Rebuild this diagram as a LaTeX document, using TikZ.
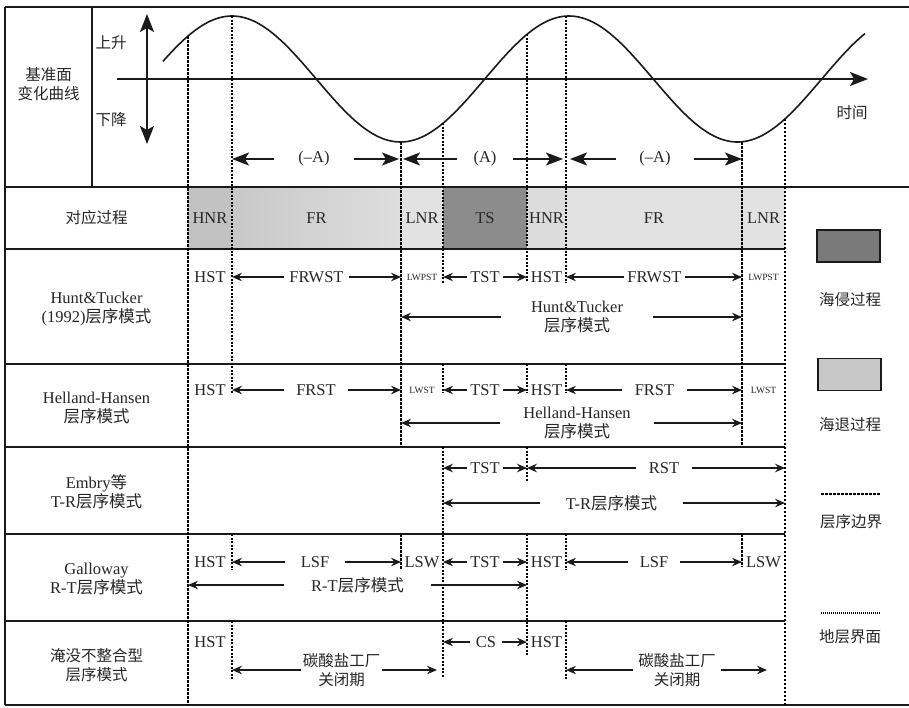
\documentclass[tikz,border=0pt]{standalone}
\usepackage{fontspec}
\setmainfont{Liberation Serif}
\newfontfamily\cjk{Noto Sans CJK SC}
\usetikzlibrary{arrows.meta}
\definecolor{ink}{HTML}{1A1A1A}
\definecolor{txtc}{HTML}{262626}
\definecolor{gHNRa}{HTML}{C2C2C2}
\definecolor{gFRaL}{HTML}{C8C8C8}
\definecolor{gFRaR}{HTML}{DEDEDE}
\definecolor{gLNR}{HTML}{E2E2E2}
\definecolor{gTS}{HTML}{8C8C8C}
\definecolor{gHNRb}{HTML}{DCDCDC}
\definecolor{gFRb}{HTML}{E1E1E1}
\definecolor{legdark}{HTML}{7A7A7A}
\definecolor{leglight}{HTML}{C8C8C8}
\begin{document}
\begin{tikzpicture}[x=1pt,y=-1pt,
  every node/.style={text=txtc},
  lbl/.style={font=\fontsize{16.5}{19}\selectfont, inner sep=0pt, align=center},
  zh/.style={lbl, font=\fontsize{15.5}{19}\selectfont\cjk},
  sml/.style={font=\fontsize{9.5}{11}\selectfont, inner sep=0pt},
  gp/.style={lbl, inner xsep=#1},
  arr/.style={draw=ink, line width=1.4pt, -{Stealth[length=10pt,width=8.5pt,inset=3.5pt]}},
  bigarr/.style={draw=ink, line width=1.6pt, -{Stealth[length=17pt,width=13pt,inset=4pt]}},
  frame/.style={draw=ink, line width=1.4pt},
  bnd/.style={draw=black, line width=2.3pt, dash pattern=on 2.5pt off 1.5pt},
  fine/.style={draw=black, line width=2pt, dash pattern=on 2pt off 1.5pt},
  legbox/.style={draw=ink, line width=1.4pt, minimum width=63pt, minimum height=32pt, inner sep=0pt},
]
\useasboundingbox (0,0) rectangle (909,707);
\fill[white] (0,0) rectangle (909,707);

% x positions of the boundaries
\coordinate (X1) at (188,0);
\coordinate (X2) at (232,0);
\coordinate (X3) at (401,0);
\coordinate (X4) at (443,0);
\coordinate (X5) at (527,0);
\coordinate (X6) at (566,0);
\coordinate (X7) at (742,0);
\coordinate (X8) at (785,0);
\coordinate (E1) at (437,0);
\coordinate (E2) at (767,0);
\coordinate (T2a) at (399,0);
\coordinate (T2b) at (403,0);
\coordinate (T3a) at (563,0);
\coordinate (T3b) at (570,0);

% process row fills
\fill[gHNRa] (188,187) rectangle (232,249);
\shade[left color=gFRaL, right color=gFRaR] (232,187) rectangle (401,249);
\fill[gLNR] (401,187) rectangle (443,249);
\fill[gTS] (443,187) rectangle (527,249);
\fill[gHNRb] (527,187) rectangle (566,249);
\fill[gFRb] (566,187) rectangle (742,249);
\fill[gLNR] (742,187) rectangle (785,249);

% frame
\draw[frame] (5,7) -- (909,7);
\draw[frame] (5,7) -- (5,705);
\draw[frame] (5,705) -- (909,705);
\draw[frame] (5,187) -- (909,187);
\draw[frame] (92,7) -- (92,187);
\foreach \yy in {249,364,447,534,621} \draw[frame] (5,\yy) -- (785,\yy);

% axes
\coordinate (VA1) at (147,14);
\coordinate (VA2) at (147,144);
\draw[draw=ink, line width=2pt, {Stealth[length=18pt,width=14pt,inset=4pt]}-{Stealth[length=18pt,width=14pt,inset=4pt]}] (VA1) -- (VA2);
\coordinate (HA1) at (117,79);
\coordinate (HA2) at (868,79);
\draw[draw=ink, line width=1.6pt, -{Stealth[length=18pt,width=14pt,inset=4pt]}] (HA1) -- (HA2);

% base-level curve
\draw[draw=ink, line width=1.6pt] plot[domain=163:865, samples=240, smooth] (\x,{79-63*cos(((\x-232)/337)*360)});

% vertical boundaries
\draw[bnd] (188,{79-63*cos(((188-232)/337)*360)}) -- (188,705);
\draw[fine] (232,16) -- (232,393);
\draw[fine] (232,534) -- (232,570);
\draw[fine] (232,621) -- (232,680);
\draw[bnd] (401,142) -- (401,447);
\draw[bnd] (401,534) -- (401,570);
\draw[fine] (443,{79-63*cos(((443-232)/337)*360)}) -- (443,283);
\draw[fine] (443,364) -- (443,393);
\draw[fine] (443,447) -- (443,678);
\draw[fine] (527,{79-63*cos(((527-232)/337)*360)}) -- (527,281);
\draw[fine] (527,364) -- (527,393);
\draw[fine] (527,447) -- (527,482);
\draw[fine] (527,534) -- (527,655);
\draw[fine] (566,16) -- (566,283);
\draw[fine] (566,364) -- (566,393);
\draw[fine] (566,534) -- (566,570);
\draw[fine] (566,621) -- (566,680);
\draw[bnd] (742,142) -- (742,445);
\draw[bnd] (742,534) -- (742,567);
\draw[bnd] (785,{79-63*cos(((785-232)/337)*360)}) -- (785,705);

% top labels
\node[zh] (jz) at (48.5,84) {基准面\\变化曲线};
\node[zh] (up) at (111,43) {上升};
\node[zh] (dn) at (111,120) {下降};
\node[zh] (tm) at (852,113) {时间};

\node[gp=24pt] (mA1) at (314,159) {(–A)};
\draw[bigarr] (mA1) -- (mA1 -| X2);
\draw[bigarr] (mA1) -- (mA1 -| T2a);
\node[gp=16pt] (pA) at (485,159) {(A)};
\draw[bigarr] (pA) -- (pA -| T2b);
\draw[bigarr] (pA) -- (pA -| T3a);
\node[gp=23pt] (mA2) at (655,159) {(–A)};
\draw[bigarr] (mA2) -- (mA2 -| T3b);
\draw[bigarr] (mA2) -- (mA2 -| X7);

% left column labels
\node[zh] (c1) at (96.5,218) {对应过程};
\node[lbl] (c2) at (96.5,309) {Hunt\&Tucker\\(1992){\cjk 层序模式}};
\node[lbl] (c3) at (96.5,408) {Helland-Hansen\\{\cjk 层序模式}};
\node[lbl] (c4) at (96.5,492) {Embry{\cjk 等}\\T-R{\cjk 层序模式}};
\node[lbl] (c5) at (96.5,579) {Galloway\\R-T{\cjk 层序模式}};
\node[zh] (c6) at (96.5,665) {淹没不整合型\\层序模式};

% process row
\node[lbl] (p1) at (210,218) {HNR};
\node[lbl] (p2) at (316.5,218) {FR};
\node[lbl] (p3) at (422,218) {LNR};
\node[lbl] (p4) at (485,218) {TS};
\node[lbl] (p5) at (546.5,218) {HNR};
\node[lbl] (p6) at (654,218) {FR};
\node[lbl] (p7) at (763.5,218) {LNR};

% Hunt & Tucker row
\node[lbl] (h1) at (210,277) {HST};
\node[gp=5pt] (h2) at (316.5,277) {FRWST};
\draw[arr] (h2) -- (h2 -| X2);
\draw[arr] (h2) -- (h2 -| X3);
\node[sml] (h3) at (422,277) {LWPST};
\node[gp=3pt] (h4) at (485,277) {TST};
\draw[arr] (h4) -- (h4 -| X4);
\draw[arr] (h4) -- (h4 -| X5);
\node[lbl, inner xsep=3pt] (h5) at (546.5,277) {HST};
\node[gp=3pt] (h6) at (654.5,277) {FRWST};
\draw[arr] (h6) -- (h6 -| X6);
\draw[arr] (h6) -- (h6 -| X7);
\node[sml] (h7) at (763.5,277) {LWPST};
\node[gp=30pt] (h8) at (577,317) {Hunt\&Tucker\\{\cjk 层序模式}};
\draw[arr] (h8) -- (h8 -| X3);
\draw[arr] (h8) -- (h8 -| X7);

% Helland-Hansen row
\node[lbl] (g1) at (210,390) {HST};
\node[gp=12pt] (g2) at (316,390) {FRST};
\draw[arr] (g2) -- (g2 -| X2);
\draw[arr] (g2) -- (g2 -| X3);
\node[sml] (g3) at (422,390) {LWST};
\node[gp=3pt] (g4) at (485,390) {TST};
\draw[arr] (g4) -- (g4 -| X4);
\draw[arr] (g4) -- (g4 -| X5);
\node[lbl] (g5) at (546.5,390) {HST};
\node[gp=13pt] (g6) at (654.5,390) {FRST};
\draw[arr] (g6) -- (g6 -| X6);
\draw[arr] (g6) -- (g6 -| X7);
\node[sml] (g7) at (763.5,390) {LWST};
\node[gp=23pt] (g8) at (577,423) {Helland-Hansen\\{\cjk 层序模式}};
\draw[arr] (g8) -- (g8 -| X3);
\draw[arr] (g8) -- (g8 -| X7);

% Embry row
\node[gp=3pt] (e1) at (485,468) {TST};
\draw[arr] (e1) -- (e1 -| X4);
\draw[arr] (e1) -- (e1 -| X5);
\node[gp=13pt] (e2) at (664,468) {RST};
\draw[arr] (e2) -- (e2 -| X5);
\draw[arr] (e2) -- (e2 -| X8);
\node[gp=26pt] (e3) at (611.5,503) {T-R{\cjk 层序模式}};
\draw[arr] (e3) -- (e3 -| X4);
\draw[arr] (e3) -- (e3 -| X8);

% Galloway row
\node[lbl] (w1) at (210,562) {HST};
\node[gp=16pt] (w2) at (315,562) {LSF};
\draw[arr] (w2) -- (w2 -| X2);
\draw[arr] (w2) -- (w2 -| X3);
\node[lbl] (w3) at (422,562) {LSW};
\node[gp=3pt] (w4) at (485,562) {TST};
\draw[arr] (w4) -- (w4 -| X4);
\draw[arr] (w4) -- (w4 -| X5);
\node[lbl] (w5) at (546.5,562) {HST};
\node[gp=12pt] (w6) at (654,562) {LSF};
\draw[arr] (w6) -- (w6 -| X6);
\draw[arr] (w6) -- (w6 -| X7);
\node[lbl] (w7) at (763.5,562) {LSW};
\node[gp=27pt] (w8) at (357.5,585) {R-T{\cjk 层序模式}};
\draw[arr] (w8) -- (w8 -| X1);
\draw[arr] (w8) -- (w8 -| X5);

% drowning unconformity row
\node[lbl] (s1) at (210,642) {HST};
\node[zh, inner xsep=2pt] (s2) at (341.5,670) {碳酸盐工厂\\关闭期};
\draw[arr] (s2) -- (s2 -| X2);
\draw[arr] (s2) -- (s2 -| E1);
\node[gp=6pt] (s3) at (486,642) {CS};
\draw[arr] (s3) -- (s3 -| X4);
\draw[arr] (s3) -- (s3 -| X5);
\node[lbl] (s4) at (546.5,642) {HST};
\node[zh, inner xsep=5pt] (s5) at (677,670) {碳酸盐工厂\\关闭期};
\draw[arr] (s5) -- (s5 -| X6);
\draw[arr] (s5) -- (s5 -| E2);

% legend
\node[legbox, fill=legdark] (L1) at (848.5,246) {};
\node[zh] (L1t) at (850,300) {海侵过程};
\node[legbox, fill=leglight] (L2) at (849.5,374.5) {};
\node[zh] (L2t) at (850,425) {海退过程};
\coordinate (L3a) at (821,494);
\coordinate (L3b) at (880,494);
\draw[bnd] (L3a) -- (L3b);
\node[zh] (L3t) at (851,522) {层序边界};
\coordinate (L4a) at (821,613);
\coordinate (L4b) at (881,613);
\draw[draw=black, line width=1.6pt, dash pattern=on 1pt off 1pt] (L4a) -- (L4b);
\node[zh] (L4t) at (850,637) {地层界面};
\end{tikzpicture}
\end{document}
